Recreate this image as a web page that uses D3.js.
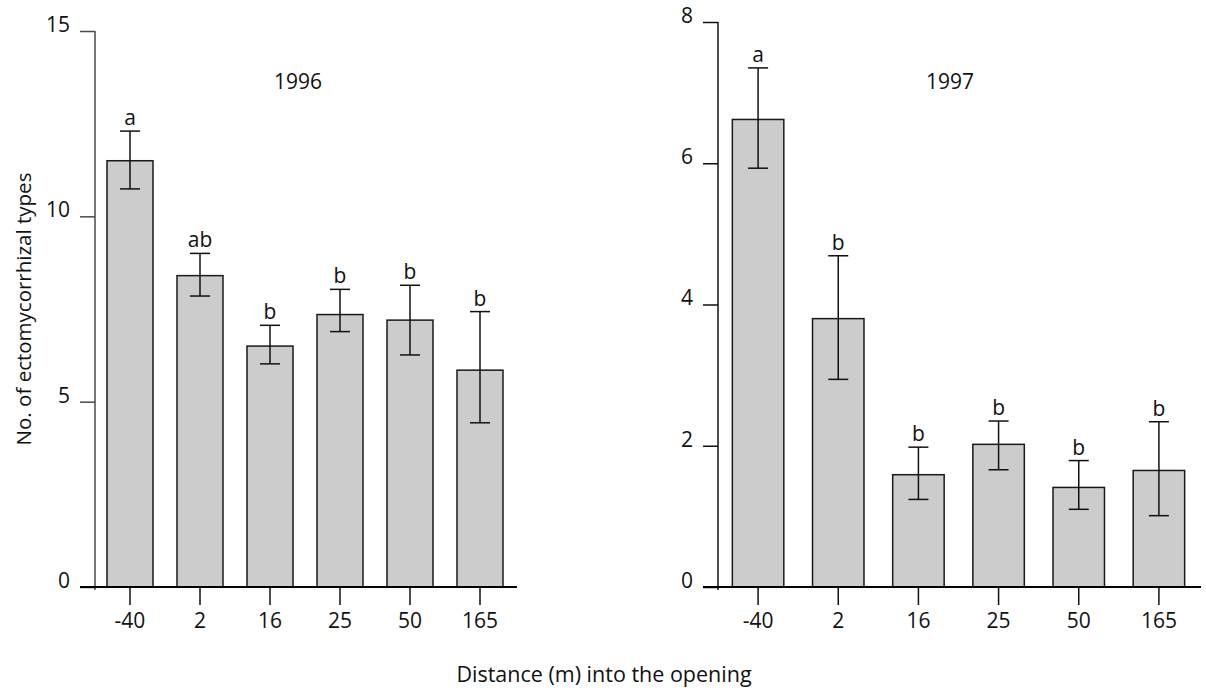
<!DOCTYPE html>
<html>
<head>
<meta charset="utf-8">
<script src="https://cdn.jsdelivr.net/npm/d3@7"></script>
<style>
  html, body { margin: 0; padding: 0; background: #fff; }
  svg { display: block; }
  text { font-family: "Open Sans", "Noto Sans", sans-serif; fill: #111; }
</style>
</head>
<body>
<svg id="chart" width="1206" height="688"></svg>
<script>
// Distance classes (m) into the opening
const distances = ["-40", "2", "16", "25", "50", "165"];

// 1996: mean number of ectomycorrhizal types and error-bar ends
const mean1996 = [11.5, 8.4, 6.5, 7.35, 7.2, 5.85];
const upper1996 = [12.3, 9.0, 7.06, 8.03, 8.14, 7.43];
const lower1996 = [10.74, 7.85, 6.02, 6.89, 6.26, 4.43];
const letters1996 = ["a", "ab", "b", "b", "b", "b"];
const ticks1996 = [0, 5, 10, 15];

// 1997
const mean1997 = [6.62, 3.8, 1.59, 2.02, 1.41, 1.65];
const upper1997 = [7.35, 4.69, 1.98, 2.35, 1.79, 2.34];
const lower1997 = [5.93, 2.94, 1.24, 1.66, 1.10, 1.01];
const letters1997 = ["a", "b", "b", "b", "b", "b"];
const ticks1997 = [0, 2, 4, 6, 8];

const FONT = "'Open Sans', 'Noto Sans', sans-serif";
const svg = d3.select("#chart");

function panel(opts) {
  const g = svg.append("g");
  const x = d3.scaleBand()
    .domain(distances)
    .range([opts.x0, opts.x1])
    .paddingInner(opts.pad)
    .paddingOuter(opts.pad / 2);
  const y = d3.scaleLinear()
    .domain([0, opts.yMax])
    .range([opts.yBottom, opts.yTop]);

  const rows = distances.map((d, i) => ({
    d, mean: opts.mean[i], hi: opts.upper[i], lo: opts.lower[i], letter: opts.letters[i]
  }));

  // bars
  g.selectAll("rect.bar").data(rows).join("rect")
    .attr("class", "bar")
    .attr("x", r => x(r.d))
    .attr("width", x.bandwidth())
    .attr("y", r => y(r.mean))
    .attr("height", r => y(0) - y(r.mean))
    .attr("fill", "#cccccc")
    .attr("stroke", "#1a1a1a")
    .attr("stroke-width", 1.5);

  // error bars
  const cx = r => x(r.d) + x.bandwidth() / 2;
  const eb = g.selectAll("g.err").data(rows).join("g").attr("class", "err")
    .attr("stroke", "#111").attr("stroke-width", 1.5);
  eb.append("line")
    .attr("x1", cx).attr("x2", cx)
    .attr("y1", r => y(r.hi)).attr("y2", r => y(r.lo));
  eb.append("line")
    .attr("x1", r => cx(r) - 10).attr("x2", r => cx(r) + 10)
    .attr("y1", r => y(r.hi)).attr("y2", r => y(r.hi));
  eb.append("line")
    .attr("x1", r => cx(r) - 10).attr("x2", r => cx(r) + 10)
    .attr("y1", r => y(r.lo)).attr("y2", r => y(r.lo));

  // significance letters
  g.selectAll("text.letter").data(rows).join("text")
    .attr("class", "letter")
    .attr("x", cx)
    .attr("y", r => y(r.hi) - 6)
    .attr("text-anchor", "middle")
    .attr("font-size", 21)
    .text(r => r.letter);

  // y axis
  const yAxis = g.append("g")
    .attr("transform", `translate(${opts.x0},0)`)
    .call(d3.axisLeft(y).tickValues(opts.ticks).tickSize(15).tickPadding(10)
      .tickFormat(d3.format("d")));
  yAxis.select(".domain").remove();
  yAxis.selectAll(".tick line").attr("stroke", opts.yColor).attr("stroke-width", 1.5);
  yAxis.selectAll(".tick text")
    .attr("dy", "0.02em")
    .attr("font-size", 21)
    .attr("font-family", FONT)
    .attr("fill", "#111");
  g.append("line")
    .attr("x1", opts.x0).attr("x2", opts.x0)
    .attr("y1", y(opts.yMax)).attr("y2", y(0) + 3)
    .attr("stroke", opts.yColor).attr("stroke-width", 1.5);

  // x axis
  const xAxis = g.append("g")
    .attr("transform", `translate(0,${y(0)})`)
    .call(d3.axisBottom(x).tickSize(18).tickPadding(8));
  xAxis.select(".domain").remove();
  xAxis.selectAll(".tick line").attr("stroke", "#111").attr("stroke-width", 1.5);
  xAxis.selectAll(".tick text")
    .attr("font-size", 21)
    .attr("font-family", FONT)
    .attr("fill", "#111");
  g.append("line")
    .attr("x1", opts.x0 - 15).attr("x2", opts.x1 + 2)
    .attr("y1", y(0)).attr("y2", y(0))
    .attr("stroke", "#000").attr("stroke-width", 2);

  // year label
  g.append("text")
    .attr("x", opts.yearX)
    .attr("y", 89)
    .attr("text-anchor", "middle")
    .attr("font-size", 21)
    .text(opts.year);
}

panel({
  x0: 95, x1: 515, pad: 0.343,
  yMax: 15, yBottom: 587, yTop: 31, ticks: ticks1996, yColor: "#4a4a4a",
  mean: mean1996, upper: upper1996, lower: lower1996, letters: letters1996,
  year: "1996", yearX: 298
});

panel({
  x0: 718, x1: 1199, pad: 0.358,
  yMax: 8, yBottom: 587, yTop: 22, ticks: ticks1997, yColor: "#111",
  mean: mean1997, upper: upper1997, lower: lower1997, letters: letters1997,
  year: "1997", yearX: 950
});

// shared axis titles
svg.append("text")
  .attr("transform", "translate(31,309) rotate(-90)")
  .attr("text-anchor", "middle")
  .attr("font-size", 20.5)
  .text("No. of ectomycorrhizal types");

svg.append("text")
  .attr("x", 604)
  .attr("y", 682)
  .attr("text-anchor", "middle")
  .attr("font-size", 21.5)
  .text("Distance (m) into the opening");
</script>
</body>
</html>
